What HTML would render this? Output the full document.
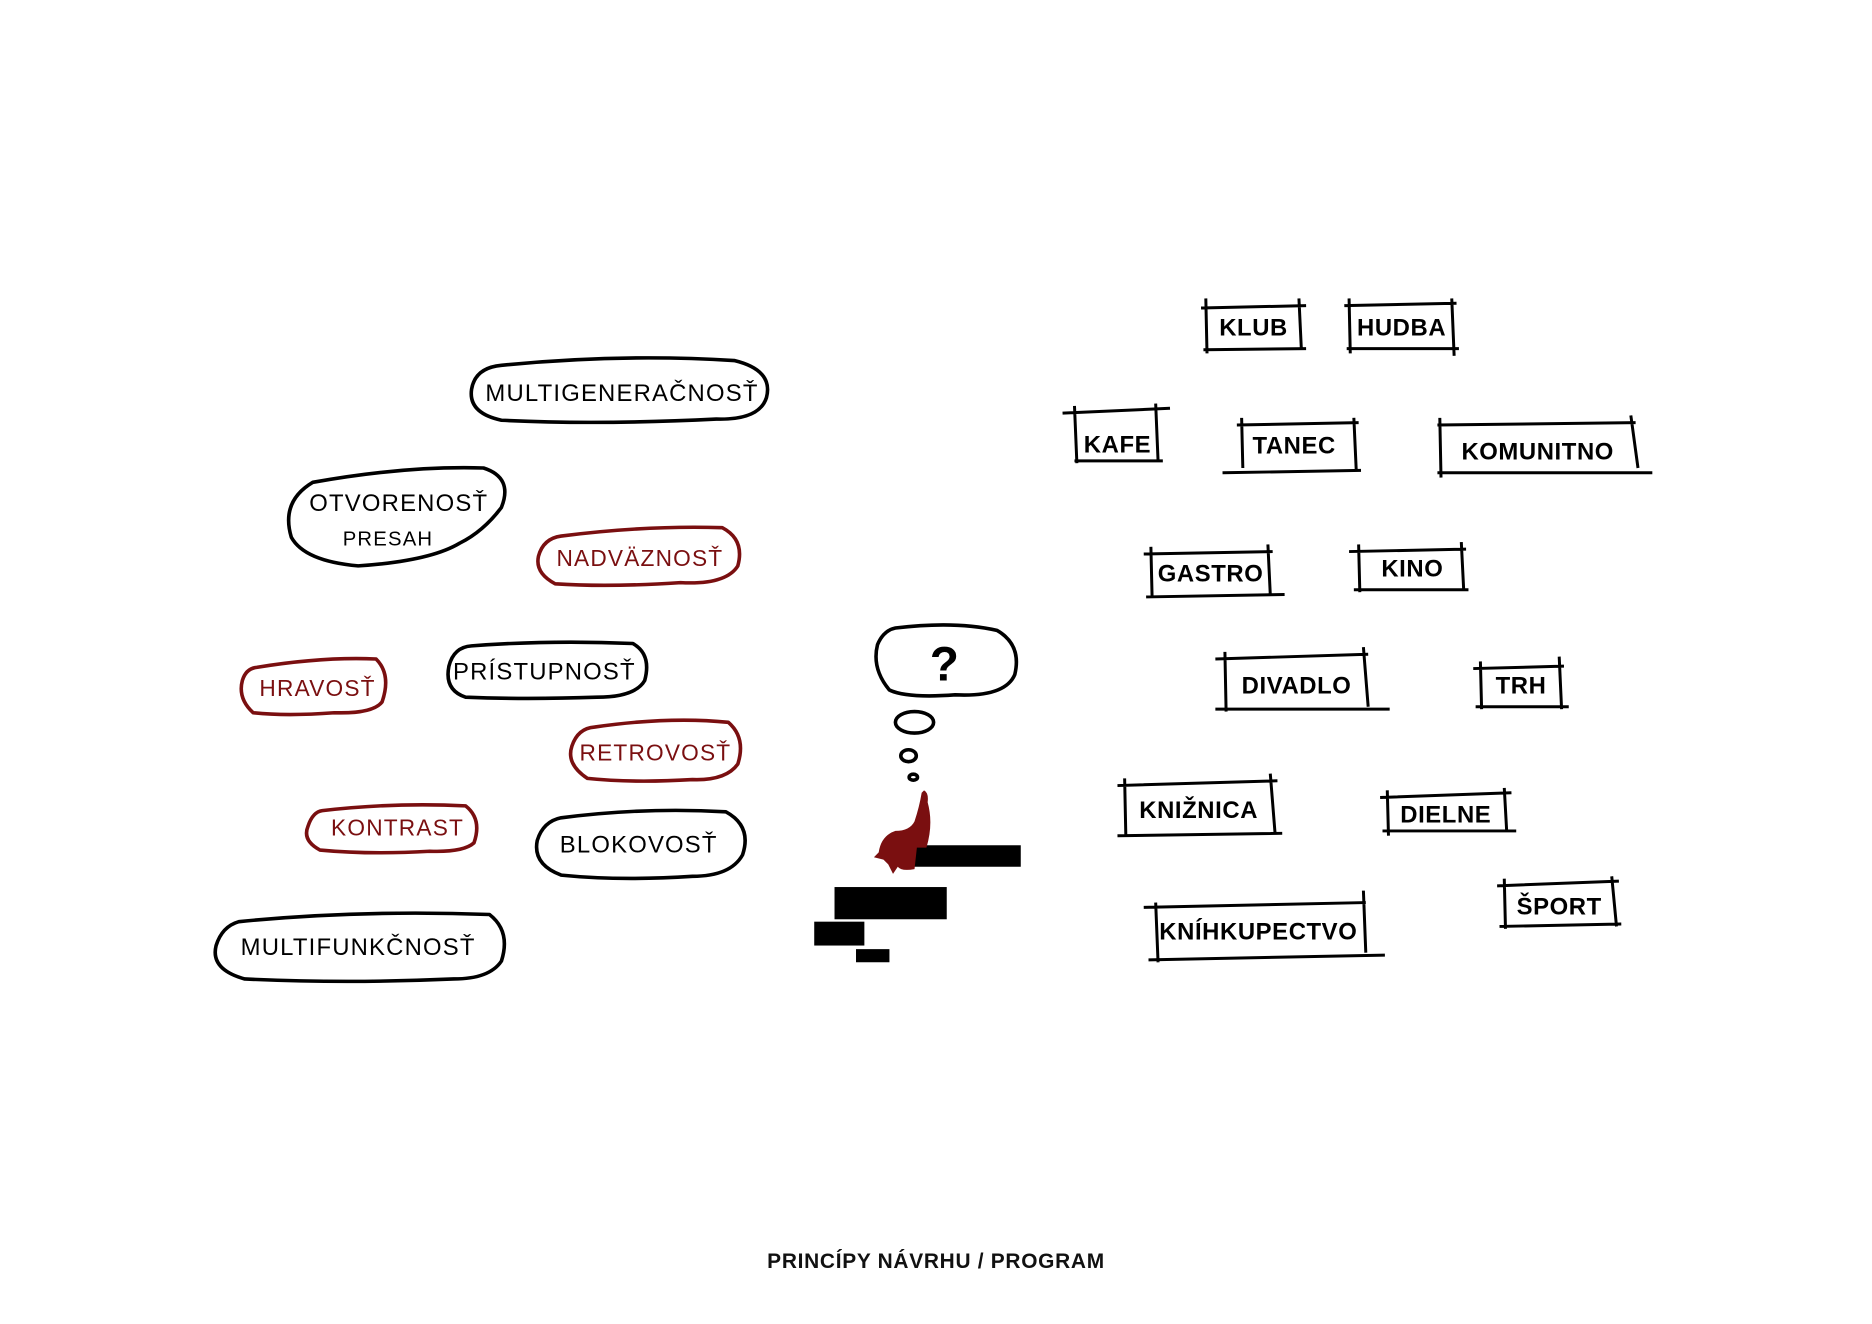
<!DOCTYPE html>
<html><head><meta charset="utf-8"><style>
html,body{margin:0;padding:0;background:#fff;}
svg{display:block}
text{font-family:"Liberation Sans",sans-serif;}
</style></head><body>
<svg width="1872" height="1324" viewBox="0 0 1568 1109" xmlns="http://www.w3.org/2000/svg">
<rect width="1568" height="1109" fill="#fff"/>
<g fill="none" stroke="#000" stroke-width="3" stroke-linejoin="round">
<path d="M420,306 Q520,296 615,302 Q648,310 642,333 Q636,352 600,351 Q500,356 420,352 Q392,346 395,326 Q398,308 420,306Z"/>
<path d="M262,404 Q340,390 405,392 Q430,400 420,425 Q405,445 385,455 Q360,470 300,474 Q255,470 244,450 Q235,420 262,404Z"/>
<path d="M395,541 Q460,536 530,539 Q546,548 540,570 Q532,584 500,584 Q440,586 390,584 Q372,578 376,558 Q380,542 395,541Z"/>
<path d="M470,685 Q540,676 608,680 Q630,692 622,716 Q612,734 580,734 Q520,738 470,733 Q446,724 450,704 Q455,688 470,685Z"/>
<path d="M200,772 Q300,762 410,766 Q428,780 420,805 Q410,820 380,820 Q290,824 205,820 Q176,812 181,792 Q186,776 200,772Z"/>
<path d="M750,526 Q800,520 835,528 Q856,540 850,565 Q842,584 800,582 Q760,585 745,578 Q730,560 735,540 Q740,528 750,526Z"/>
<ellipse cx="766" cy="605" rx="16" ry="9"/>
<ellipse cx="761" cy="633" rx="6.5" ry="5"/>
<ellipse cx="765" cy="651" rx="3.5" ry="2.5"/>
</g>
<g fill="none" stroke="#7a0f10" stroke-width="3" stroke-linejoin="round">
<path d="M470,449 Q540,440 605,442 Q624,452 618,474 Q608,490 570,488 Q510,492 465,489 Q448,480 451,466 Q455,451 470,449Z"/>
<path d="M215,559 Q270,550 315,552 Q328,565 320,588 Q312,598 280,597 Q240,600 212,597 Q199,585 203,570 Q206,560 215,559Z"/>
<path d="M498,609 Q560,600 610,605 Q625,618 618,640 Q608,654 580,653 Q530,656 492,652 Q474,640 479,625 Q484,610 498,609Z"/>
<path d="M270,679 Q330,672 390,675 Q404,686 397,706 Q388,714 360,713 Q310,716 268,712 Q253,704 258,692 Q262,680 270,679Z"/>
</g>
<g font-size="20" fill="#000" text-anchor="middle" letter-spacing="1">
<text x="521" y="336">MULTIGENERAČNOSŤ</text>
<text x="334" y="428">OTVORENOSŤ</text>
<text x="325" y="457" font-size="17">PRESAH</text>
<text x="456" y="569">PRÍSTUPNOSŤ</text>
<text x="535" y="714">BLOKOVOSŤ</text>
<text x="300" y="800">MULTIFUNKČNOSŤ</text>
<text x="791" y="570" font-size="40" font-weight="bold" letter-spacing="0">?</text>
</g>
<g font-size="19" fill="#7a0f10" text-anchor="middle" letter-spacing="1">
<text x="536" y="474">NADVÄZNOSŤ</text>
<text x="266" y="583">HRAVOSŤ</text>
<text x="549" y="637">RETROVOSŤ</text>
<text x="333" y="700">KONTRAST</text>
</g>
<g stroke="#000" stroke-width="2.5" fill="none">
<path d="M1006,258 L1094,256 M1010,250 L1011,296 M1088,250 L1090,292 M1008,293 L1094,292"/>
<path d="M1126,256 L1220,254 M1130,250 L1131,296 M1216,250 L1218,298 M1128,292 L1222,292"/>
<path d="M890,346 L980,342 M900,340 L902,388 M968,338 L970,386 M900,386 L974,386"/>
<path d="M1036,356 L1138,354 M1040,350 L1041,392 M1134,350 L1136,394 M1024,396 L1140,394"/>
<path d="M1204,356 L1370,354 M1206,350 L1207,400 M1366,348 L1372,392 M1204,396 L1384,396"/>
<path d="M958,464 L1066,462 M964,458 L965,500 M1062,456 L1064,498 M960,500 L1076,498"/>
<path d="M1130,462 L1228,460 M1138,456 L1139,496 M1224,454 L1226,494 M1134,494 L1230,494"/>
<path d="M1018,552 L1146,548 M1026,546 L1027,596 M1142,542 L1146,592 M1018,594 L1164,594"/>
<path d="M1234,560 L1310,558 M1240,554 L1241,594 M1306,550 L1308,594 M1236,592 L1314,592"/>
<path d="M936,658 L1070,654 M942,652 L943,700 M1064,648 L1068,698 M936,700 L1074,698"/>
<path d="M1156,668 L1266,664 M1162,662 L1163,700 M1260,660 L1262,696 M1158,696 L1270,696"/>
<path d="M958,760 L1144,756 M968,756 L970,806 M1142,746 L1144,798 M962,804 L1160,800"/>
<path d="M1254,742 L1356,738 M1260,736 L1261,778 M1350,734 L1354,776 M1256,776 L1358,774"/>
</g>
<g font-size="20" fill="#000" text-anchor="middle" font-weight="bold" letter-spacing="0.5">
<text x="1050" y="281">KLUB</text>
<text x="1174" y="281">HUDBA</text>
<text x="936" y="379">KAFE</text>
<text x="1084" y="380">TANEC</text>
<text x="1288" y="385">KOMUNITNO</text>
<text x="1014" y="487">GASTRO</text>
<text x="1183" y="483">KINO</text>
<text x="1086" y="581">DIVADLO</text>
<text x="1274" y="581">TRH</text>
<text x="1004" y="685">KNIŽNICA</text>
<text x="1211" y="689">DIELNE</text>
<text x="1054" y="787">KNÍHKUPECTVO</text>
<text x="1306" y="766">ŠPORT</text>
</g>
<g fill="#000">
<rect x="766" y="708" width="89" height="18"/>
<rect x="699" y="743" width="94" height="27"/>
<rect x="682" y="772" width="42" height="20"/>
<rect x="717" y="795" width="28" height="11"/>
</g>
<path fill="#7a0f10" d="M774,662 Q778,664 777,672 Q782,690 776,710 L768,710 L766,728 Q755,730 752,726 L748,732 L744,724 L740,720 L732,718 L736,714 Q738,700 750,696 Q762,696 766,688 Q770,676 772,664Z"/>
<text x="784" y="1062" font-size="17.5" font-weight="bold" text-anchor="middle" fill="#111" letter-spacing="0.6">PRINCÍPY NÁVRHU / PROGRAM</text>
</svg>
</body></html>
